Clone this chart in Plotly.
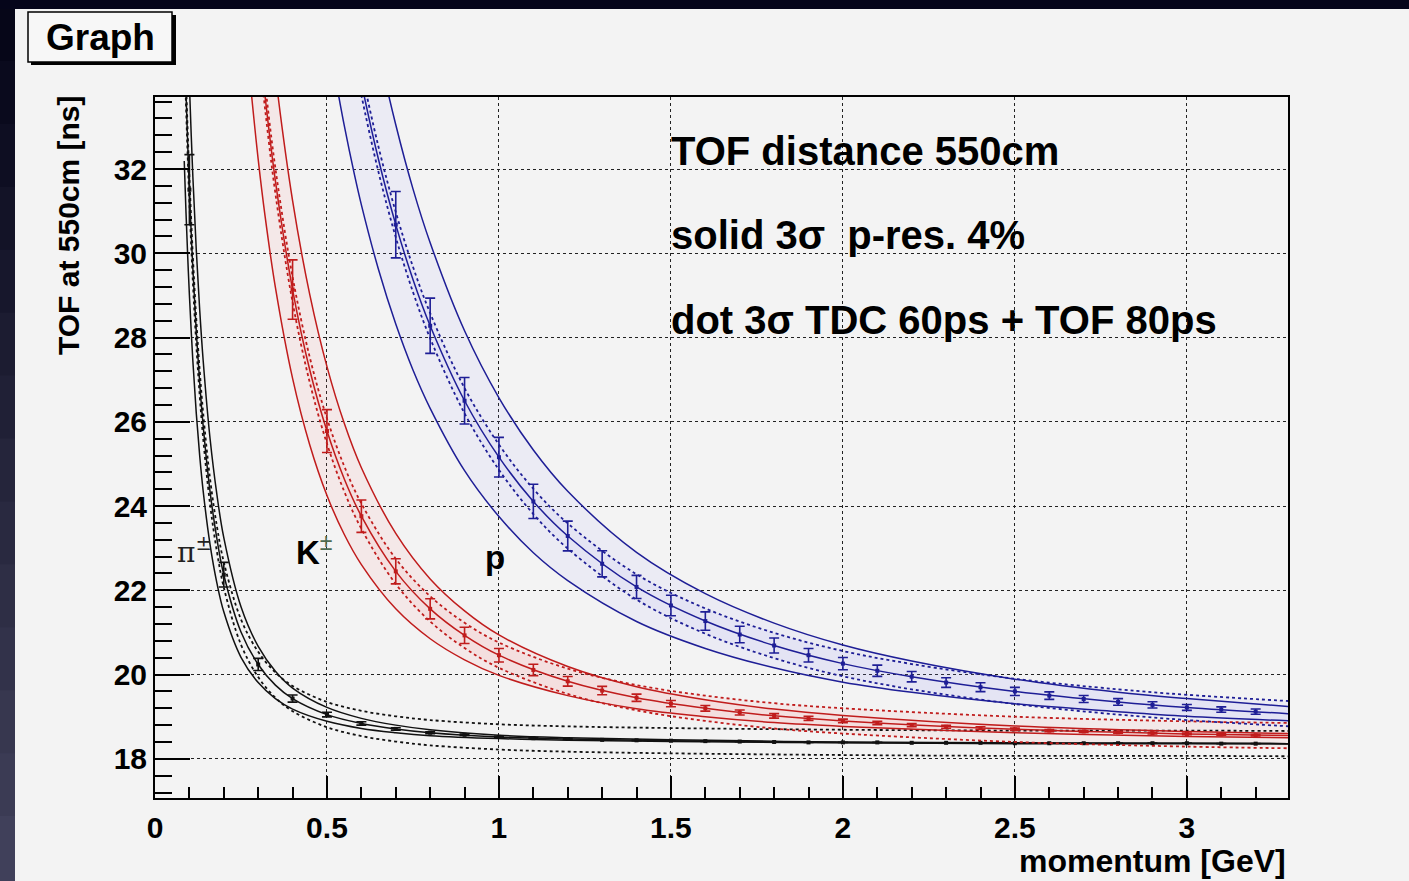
import plotly.graph_objects as go

# ---------------- data ----------------
# pion curves
MOM_PI = [0.085, 0.09, 0.095, 0.10, 0.11, 0.12, 0.13, 0.14, 0.16, 0.18, 0.20, 0.25, 0.30, 0.35,
          0.40, 0.50, 0.60, 0.70, 0.80, 1.0, 1.2, 1.5, 2.0, 2.5, 3.0, 3.3]
PI_MID = [35.28, 33.86, 32.61, 31.51, 29.64, 28.14, 26.92, 25.91, 24.35, 23.22, 22.37, 21.01, 20.24, 19.75,
          19.43, 19.05, 18.84, 18.71, 18.62, 18.52, 18.47, 18.43, 18.39, 18.37, 18.37, 18.36]
PI_HI = [38.37, 36.73, 35.29, 34.01, 31.83, 30.08, 28.65, 27.46, 25.61, 24.27, 23.25, 21.61, 20.67, 20.08,
         19.68, 19.22, 18.96, 18.80, 18.69, 18.56, 18.50, 18.45, 18.40, 18.38, 18.37, 18.36]
PI_LO = [32.19, 30.99, 29.94, 29.01, 27.45, 26.20, 25.19, 24.36, 23.09, 22.17, 21.49, 20.41, 19.81, 19.43,
         19.18, 18.89, 18.72, 18.62, 18.55, 18.48, 18.44, 18.41, 18.38, 18.36, 18.36, 18.36]
PI_DHI = [35.58, 34.16, 32.91, 31.81, 29.94, 28.44, 27.22, 26.21, 24.65, 23.52, 22.67, 21.31, 20.54, 20.05,
          19.73, 19.35, 19.14, 19.01, 18.92, 18.82, 18.77, 18.73, 18.69, 18.67, 18.67, 18.66]
PI_DLO = [34.98, 33.56, 32.31, 31.21, 29.34, 27.84, 26.62, 25.61, 24.05, 22.92, 22.07, 20.71, 19.94, 19.45,
          19.13, 18.75, 18.54, 18.41, 18.32, 18.22, 18.17, 18.13, 18.09, 18.07, 18.07, 18.06]
# pion points with error bars
MOM_PI_PTS = [0.1, 0.2, 0.3, 0.4, 0.5, 0.6, 0.7, 0.8, 0.9, 1.0, 1.1, 1.2, 1.3, 1.4, 1.5, 1.6,
              1.7, 1.8, 1.9, 2.0, 2.1, 2.2, 2.3, 2.4, 2.5, 2.6, 2.7, 2.8, 2.9, 3.0, 3.1, 3.2]
PI_PTS = [31.51, 22.37, 20.24, 19.43, 19.05, 18.84, 18.71, 18.62, 18.57, 18.52, 18.49, 18.47, 18.45, 18.44,
          18.43, 18.42, 18.41, 18.40, 18.39, 18.39, 18.39, 18.38, 18.38, 18.38, 18.37, 18.37, 18.37, 18.37,
          18.37, 18.37, 18.36, 18.36]
PI_ERR = [0.833, 0.293, 0.144, 0.084, 0.055, 0.039, 0.029, 0.022, 0.017, 0.014, 0.012, 0.010, 0.008, 0.007,
          0.006, 0.006, 0.005, 0.004, 0.004, 0.004, 0.003, 0.003, 0.003, 0.002, 0.002, 0.002, 0.002, 0.002,
          0.002, 0.002, 0.001, 0.001]

# kaon curves
MOM_K = [0.28, 0.30, 0.32, 0.35, 0.40, 0.45, 0.50, 0.55, 0.60, 0.70, 0.80, 0.90, 1.0, 1.2, 1.4, 1.6, 1.8,
         2.0, 2.5, 3.0, 3.3]
K_MID = [37.19, 35.33, 33.73, 31.72, 29.14, 27.23, 25.78, 24.65, 23.76, 22.45, 21.56, 20.93, 20.46, 19.84,
         19.45, 19.20, 19.02, 18.90, 18.70, 18.59, 18.55]
K_HI = [40.57, 38.43, 36.58, 34.25, 31.25, 29.02, 27.31, 25.97, 24.91, 23.35, 22.27, 21.51, 20.94, 20.19,
        19.71, 19.40, 19.18, 19.03, 18.78, 18.65, 18.60]
K_LO = [33.81, 32.23, 30.88, 29.19, 27.03, 25.45, 24.25, 23.33, 22.61, 21.56, 20.85, 20.35, 19.98, 19.50,
        19.19, 19.00, 18.86, 18.77, 18.62, 18.53, 18.50]
K_DHI = [37.49, 35.63, 34.03, 32.02, 29.44, 27.53, 26.08, 24.95, 24.06, 22.75, 21.86, 21.23, 20.76, 20.14,
         19.75, 19.50, 19.32, 19.20, 19.00, 18.89, 18.85]
K_DLO = [36.89, 35.03, 33.43, 31.42, 28.84, 26.93, 25.48, 24.35, 23.46, 22.15, 21.26, 20.63, 20.16, 19.54,
         19.15, 18.90, 18.72, 18.60, 18.40, 18.29, 18.25]
MOM_K_PTS = [0.4, 0.5, 0.6, 0.7, 0.8, 0.9, 1.0, 1.1, 1.2, 1.3, 1.4, 1.5, 1.6, 1.7, 1.8, 1.9, 2.0, 2.1,
             2.2, 2.3, 2.4, 2.5, 2.6, 2.7, 2.8, 2.9, 3.0, 3.1, 3.2]
K_PTS = [29.14, 25.78, 23.76, 22.45, 21.56, 20.93, 20.46, 20.11, 19.84, 19.62, 19.45, 19.31, 19.20, 19.10,
         19.02, 18.96, 18.90, 18.85, 18.80, 18.76, 18.73, 18.70, 18.67, 18.65, 18.63, 18.61, 18.59, 18.58,
         18.56]
K_ERR = [0.704, 0.509, 0.384, 0.298, 0.238, 0.194, 0.160, 0.135, 0.115, 0.099, 0.086, 0.075, 0.067, 0.059,
         0.053, 0.048, 0.043, 0.039, 0.036, 0.033, 0.030, 0.028, 0.026, 0.024, 0.022, 0.021, 0.020, 0.018,
         0.017]

# proton curves
MOM_P = [0.52, 0.55, 0.58, 0.60, 0.65, 0.70, 0.75, 0.80, 0.90, 1.0, 1.1, 1.2, 1.4, 1.6, 1.8, 2.0, 2.2,
         2.5, 2.8, 3.0, 3.3]
P_MID = [37.85, 36.28, 34.89, 34.05, 32.22, 30.68, 29.38, 28.28, 26.50, 25.16, 24.11, 23.29, 22.08, 21.27,
         20.69, 20.26, 19.95, 19.60, 19.35, 19.22, 19.07]
P_HI = [41.33, 39.52, 37.92, 36.95, 34.83, 33.05, 31.53, 30.25, 28.16, 26.57, 25.33, 24.35, 22.90, 21.92,
        21.22, 20.70, 20.32, 19.89, 19.58, 19.43, 19.24]
P_LO = [34.37, 33.04, 31.86, 31.15, 29.61, 28.32, 27.23, 26.32, 24.84, 23.75, 22.89, 22.23, 21.26, 20.62,
        20.16, 19.82, 19.58, 19.31, 19.12, 19.01, 18.90]
P_DHI = [38.15, 36.58, 35.19, 34.35, 32.52, 30.98, 29.68, 28.58, 26.80, 25.46, 24.41, 23.59, 22.38, 21.57,
         20.99, 20.56, 20.25, 19.90, 19.65, 19.52, 19.37]
P_DLO = [37.55, 35.98, 34.59, 33.75, 31.92, 30.38, 29.08, 27.98, 26.20, 24.86, 23.81, 22.99, 21.78, 20.97,
         20.39, 19.96, 19.65, 19.30, 19.05, 18.92, 18.77]
MOM_P_PTS = [0.7, 0.8, 0.9, 1.0, 1.1, 1.2, 1.3, 1.4, 1.5, 1.6, 1.7, 1.8, 1.9, 2.0, 2.1, 2.2, 2.3, 2.4,
             2.5, 2.6, 2.7, 2.8, 2.9, 3.0, 3.1, 3.2]
P_PTS = [30.68, 28.28, 26.50, 25.16, 24.11, 23.29, 22.63, 22.08, 21.64, 21.27, 20.95, 20.69, 20.46, 20.26,
         20.09, 19.95, 19.81, 19.70, 19.60, 19.50, 19.42, 19.35, 19.28, 19.22, 19.17, 19.12]
P_ERR = [0.788, 0.655, 0.552, 0.471, 0.406, 0.353, 0.310, 0.274, 0.243, 0.218, 0.196, 0.177, 0.160, 0.146,
         0.134, 0.123, 0.113, 0.104, 0.097, 0.090, 0.084, 0.078, 0.073, 0.069, 0.064, 0.061]

X_RANGE = [0, 3.294]
Y_RANGE = [17.07, 33.71]
X_TICKS = [0, 0.5, 1, 1.5, 2, 2.5, 3]
X_TICK_TEXT = ["0", "0.5", "1", "1.5", "2", "2.5", "3"]
Y_TICKS = [18, 20, 22, 24, 26, 28, 30, 32]
Y_TICK_TEXT = ["18", "20", "22", "24", "26", "28", "30", "32"]
NOTES = ["TOF distance 550cm", "solid 3σ  p-res. 4%", "dot 3σ TDC 60ps + TOF 80ps"]
NOTE_Y = [32, 30, 28]

# ---------------- styling ----------------
W, H = 1409, 881
ML, MR, MT, MB = 155, 121, 97, 83
PW, PH = W - ML - MR, H - MT - MB
FONT = "Liberation Sans, Arial, Helvetica, sans-serif"
BG = "#f3f3f3"


def px(xp):
    return (xp - ML) / PW


def py(yp):
    return (H - MB - yp) / PH


species = [
    dict(mom=MOM_PI, mid=PI_MID, hi=PI_HI, lo=PI_LO, dhi=PI_DHI, dlo=PI_DLO,
         pm=MOM_PI_PTS, pts=PI_PTS, err=PI_ERR, line="#111111", fill=None, dfill=None),
    dict(mom=MOM_K, mid=K_MID, hi=K_HI, lo=K_LO, dhi=K_DHI, dlo=K_DLO,
         pm=MOM_K_PTS, pts=K_PTS, err=K_ERR, line="#c01c1c",
         fill="rgba(255,120,120,0.09)", dfill="rgba(255,120,120,0.07)"),
    dict(mom=MOM_P, mid=P_MID, hi=P_HI, lo=P_LO, dhi=P_DHI, dlo=P_DLO,
         pm=MOM_P_PTS, pts=P_PTS, err=P_ERR, line="#1e1e96",
         fill="rgba(140,140,255,0.08)", dfill="rgba(140,140,255,0.06)"),
]

fig = go.Figure()

# light fills first
for s in species:
    if s["fill"] is None:
        continue
    fig.add_trace(go.Scatter(x=s["mom"], y=s["dlo"], mode="lines", line=dict(width=0, shape="spline"),
                             hoverinfo="skip", showlegend=False))
    fig.add_trace(go.Scatter(x=s["mom"], y=s["dhi"], mode="lines", line=dict(width=0, shape="spline"),
                             fill="tonexty", fillcolor=s["dfill"], hoverinfo="skip", showlegend=False))
    fig.add_trace(go.Scatter(x=s["mom"], y=s["lo"], mode="lines", line=dict(width=0, shape="spline"),
                             hoverinfo="skip", showlegend=False))
    fig.add_trace(go.Scatter(x=s["mom"], y=s["hi"], mode="lines", line=dict(width=0, shape="spline"),
                             fill="tonexty", fillcolor=s["fill"], hoverinfo="skip", showlegend=False))

# lines and points
for s in species:
    c = s["line"]
    for key in ("dhi", "dlo"):
        fig.add_trace(go.Scatter(x=s["mom"], y=s[key], mode="lines",
                                 line=dict(color=c, width=1.8, dash="dot", shape="spline"),
                                 hoverinfo="skip", showlegend=False))
    for key in ("hi", "lo", "mid"):
        fig.add_trace(go.Scatter(x=s["mom"], y=s[key], mode="lines",
                                 line=dict(color=c, width=1.5, shape="spline"),
                                 hoverinfo="skip", showlegend=False))
    fig.add_trace(go.Scatter(x=s["pm"], y=s["pts"], mode="markers",
                             marker=dict(symbol="square", size=4, color=c),
                             error_y=dict(type="data", array=s["err"], visible=True, color=c,
                                          thickness=1.6, width=5),
                             hoverinfo="skip", showlegend=False))

axis_common = dict(showline=True, linecolor="black", linewidth=2, mirror=True,
                   ticks="inside", tickcolor="black", tickwidth=1.5,
                   showgrid=True, gridcolor="#222222", gridwidth=1, griddash="dot",
                   zeroline=False,
                   tickfont=dict(family=FONT, size=30, color="black", weight="bold"))

fig.update_xaxes(range=X_RANGE, tickmode="array", tickvals=X_TICKS, ticktext=X_TICK_TEXT, ticklen=22,
                 minor=dict(ticks="inside", ticklen=11, dtick=0.1, tick0=0, tickcolor="black",
                            tickwidth=1.5, showgrid=False),
                 **axis_common)
fig.update_yaxes(range=Y_RANGE, tickmode="array", tickvals=Y_TICKS, ticktext=Y_TICK_TEXT, ticklen=35,
                 minor=dict(ticks="inside", ticklen=17, dtick=0.4, tick0=18, tickcolor="black",
                            tickwidth=1.5, showgrid=False),
                 **axis_common)
fig.update_xaxes(ticklabelstandoff=2)

shapes = []
# dark frame around the canvas (left strip with gradient, top strip)
n_band = 14
for i in range(n_band):
    t = i / (n_band - 1)
    r = int(6 + t * 58)
    g = int(6 + t * 58)
    b = int(24 + t * 66)
    y0 = py(H * (i + 1) / n_band + 2)
    y1 = py(H * i / n_band - 2)
    shapes.append(dict(type="rect", xref="paper", yref="paper", x0=px(-5), x1=px(15), y0=y0, y1=y1,
                       fillcolor=f"rgb({r},{g},{b})", line=dict(width=0), layer="below"))
shapes.append(dict(type="rect", xref="paper", yref="paper", x0=px(-5), x1=px(W + 5), y0=py(9), y1=py(-5),
                   fillcolor="#05051a", line=dict(width=0), layer="below"))
# title box with shadow
shapes.append(dict(type="rect", xref="paper", yref="paper", x0=px(31), x1=px(176), y0=py(65), y1=py(15),
                   fillcolor="black", line=dict(width=0)))
shapes.append(dict(type="rect", xref="paper", yref="paper", x0=px(28), x1=px(172), y0=py(62), y1=py(12),
                   fillcolor="#f7f7f7", line=dict(color="black", width=1.5)))

annotations = [
    dict(text="<b>Graph</b>", xref="paper", yref="paper", x=px(100), y=py(38), xanchor="center",
         yanchor="middle", showarrow=False, font=dict(family=FONT, size=37, color="black")),
    dict(text="<b>TOF at 550cm [ns]</b>", xref="paper", yref="paper", x=px(68), y=py(225),
         xanchor="center", yanchor="middle", textangle=-90, showarrow=False,
         font=dict(family=FONT, size=30, color="black")),
    dict(text="<b>momentum [GeV]</b>", xref="paper", yref="paper", x=1.0, y=py(861),
         xanchor="right", yanchor="middle", showarrow=False,
         font=dict(family=FONT, size=32, color="black")),
    dict(text="π<sup>±</sup>", x=0.058, y=22.45, xanchor="left", yanchor="bottom", showarrow=False,
         font=dict(family="DejaVu Serif, serif", size=28, color="#222222")),
    dict(text="<b>K</b><span style='color:#4d6b50'><sup>±</sup></span>", x=0.405, y=22.4,
         xanchor="left", yanchor="bottom", showarrow=False,
         font=dict(family=FONT, size=33, color="black")),
    dict(text="<b>p</b>", x=0.955, y=22.3, xanchor="left", yanchor="bottom", showarrow=False,
         font=dict(family=FONT, size=33, color="black")),
]
for txt, yv in zip(NOTES, NOTE_Y):
    annotations.append(dict(text=f"<b>{txt}</b>", x=1.495, y=yv, xanchor="left", yanchor="bottom",
                            yshift=-6, showarrow=False, font=dict(family=FONT, size=40, color="black")))

fig.update_layout(width=W, height=H, margin=dict(l=ML, r=MR, t=MT, b=MB, pad=0),
                  paper_bgcolor=BG, plot_bgcolor=BG, showlegend=False,
                  shapes=shapes, annotations=annotations)

fig.write_html("out.html")
